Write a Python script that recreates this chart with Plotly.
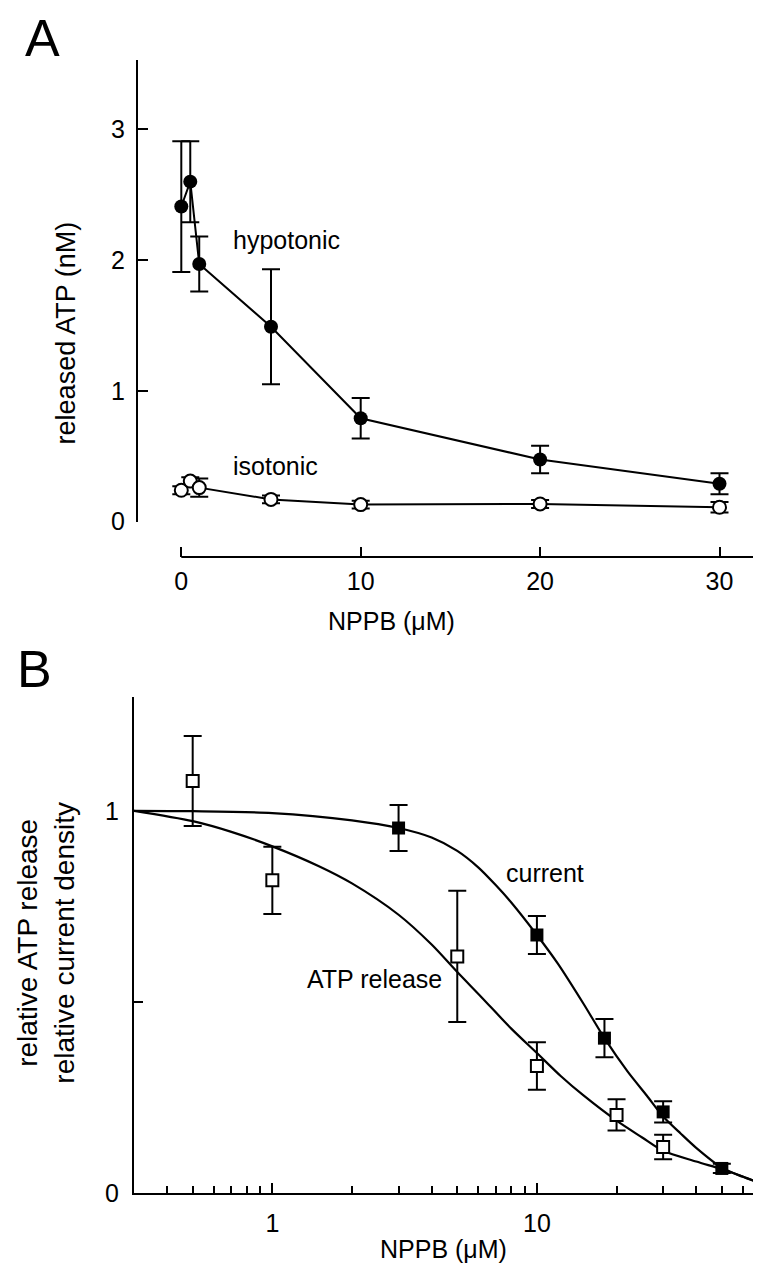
import numpy as np
import plotly.graph_objects as go

W, H = 761, 1280
FONT = "Liberation Sans, Arial, Helvetica, sans-serif"

# ---------------- Panel A data ----------------
conc_A = [0, 0.5, 1, 5, 10, 20, 30]
hypotonic = [2.41, 2.60, 1.97, 1.49, 0.79, 0.475, 0.29]
hypotonic_err = [0.50, 0.31, 0.21, 0.44, 0.155, 0.105, 0.08]
isotonic = [0.24, 0.31, 0.26, 0.17, 0.13, 0.135, 0.11]
isotonic_err = [0.03, 0.03, 0.07, 0.03, 0.03, 0.03, 0.04]
ticks_A_x = [0, 10, 20, 30]
ticks_A_y = [0, 1, 2, 3]

# ---------------- Panel B data ----------------
atp_x = [0.5, 1, 5, 10, 20, 30]
atp_y = [1.078, 0.818, 0.619, 0.332, 0.204, 0.12]
atp_err = [0.118, 0.088, 0.172, 0.062, 0.041, 0.032]
cur_x = [3, 10, 18, 30, 50]
cur_y = [0.955, 0.675, 0.405, 0.212, 0.064]
cur_err = [0.06, 0.05, 0.05, 0.028, 0.012]
# fitted curves
cur_fit_x = [0.3, 0.5, 1, 2, 3, 4, 5, 6, 7, 8, 10, 12, 15, 18, 22, 26, 30, 35, 40, 50, 60, 70]
cur_fit_y = [1.0, 0.999, 0.994, 0.975, 0.955, 0.93, 0.895, 0.852, 0.805, 0.76, 0.675, 0.60,
             0.495, 0.405, 0.318, 0.255, 0.20, 0.155, 0.118, 0.066, 0.042, 0.025]
atp_fit_x = [0.3, 0.5, 0.7, 1, 1.5, 2, 3, 4, 5, 6.16, 8, 10, 12.3, 15, 20, 25, 30, 40, 50, 60, 70]
atp_fit_y = [1.0, 0.973, 0.945, 0.907, 0.855, 0.81, 0.728, 0.65, 0.578, 0.513, 0.43, 0.366,
             0.306, 0.255, 0.189, 0.145, 0.11, 0.082, 0.062, 0.043, 0.025]
ticks_B_x = [1, 10]
minor_B_x = [0.4, 0.5, 0.6, 0.7, 0.8, 0.9, 2, 3, 4, 5, 6, 7, 8, 9, 20, 30, 40, 50, 60, 70]
ticks_B_y = [0, 0.5, 1]
ticklabels_B_y = ["0", "", "1"]


def px(x):
    return x / W


def py(y):
    return 1 - y / H


fig = go.Figure()

eb = dict(type="data", visible=True, color="black", thickness=2, width=9)

# Panel A
fig.add_trace(go.Scatter(
    x=conc_A, y=isotonic, mode="lines+markers",
    error_y=dict(array=isotonic_err, **eb),
    line=dict(color="black", width=2),
    marker=dict(symbol="circle", size=13, color="white", line=dict(color="black", width=2)),
    cliponaxis=False, xaxis="x", yaxis="y", showlegend=False))
fig.add_trace(go.Scatter(
    x=conc_A, y=hypotonic, mode="lines+markers",
    error_y=dict(array=hypotonic_err, **eb),
    line=dict(color="black", width=2),
    marker=dict(symbol="circle", size=14, color="black"),
    cliponaxis=False, xaxis="x", yaxis="y", showlegend=False))

# Panel B
fig.add_trace(go.Scatter(
    x=atp_fit_x, y=atp_fit_y, mode="lines",
    line=dict(color="black", width=2.2, shape="spline", smoothing=0.8),
    xaxis="x2", yaxis="y2", showlegend=False, cliponaxis=False))
fig.add_trace(go.Scatter(
    x=cur_fit_x, y=cur_fit_y, mode="lines",
    line=dict(color="black", width=2.2, shape="spline", smoothing=0.8),
    xaxis="x2", yaxis="y2", showlegend=False, cliponaxis=False))
fig.add_trace(go.Scatter(
    x=atp_x, y=atp_y, mode="markers",
    error_y=dict(array=atp_err, **eb),
    marker=dict(symbol="square", size=12, color="white", line=dict(color="black", width=2)),
    xaxis="x2", yaxis="y2", showlegend=False, cliponaxis=False))
fig.add_trace(go.Scatter(
    x=cur_x, y=cur_y, mode="markers",
    error_y=dict(array=cur_err, **eb),
    marker=dict(symbol="square", size=13, color="black"),
    xaxis="x2", yaxis="y2", showlegend=False, cliponaxis=False))

tickfont = dict(family=FONT, size=25, color="black")

# Panel A axes geometry (pixels)
A_x0_px, A_x10_px = 173.3, 352.7
A_left_px, A_right_px = 130, 755.7
A_scale = (A_x10_px - A_x0_px) / 10
A_xmin = (A_left_px - A_x0_px) / A_scale
A_xmax = (A_right_px - A_x0_px) / A_scale
A_y0_px, A_top_px = 519.3, 53
A_yscale = 132.2
A_ymax = (A_y0_px - A_top_px) / A_yscale

fig.update_layout(
    width=W, height=H, margin=dict(l=0, r=0, t=0, b=0),
    paper_bgcolor="white", plot_bgcolor="white",
    font=dict(family=FONT, color="black", size=25),
    xaxis=dict(domain=[px(A_left_px), px(A_right_px)], range=[A_xmin, A_xmax],
               anchor="free", position=py(555), showline=False, showgrid=False, zeroline=False,
               tickvals=ticks_A_x, ticks="inside", ticklen=10, tickwidth=2, tickcolor="black",
               tickfont=tickfont, ticklabelstandoff=7),
    yaxis=dict(domain=[py(A_y0_px), py(A_top_px)], range=[0, A_ymax], anchor="x",
               showline=True, linecolor="black", linewidth=2, showgrid=False, zeroline=False,
               tickvals=ticks_A_y, ticks="inside", ticklen=10, tickwidth=2, tickcolor="black",
               tickfont=tickfont, ticklabelstandoff=6),
    xaxis2=dict(type="log", domain=[px(126), px(752.5)], range=[np.log10(0.3), np.log10(70)],
                anchor="y2", showline=True, linecolor="black", linewidth=2, showgrid=False,
                zeroline=False, tickvals=ticks_B_x, ticktext=["1", "10"], ticks="inside",
                ticklen=10, tickwidth=2, tickcolor="black", tickfont=tickfont, ticklabelstandoff=7,
                minor=dict(tickvals=minor_B_x, ticks="inside", ticklen=7, tickwidth=2,
                           tickcolor="black", showgrid=False)),
    yaxis2=dict(domain=[py(1198), py(697)], range=[0, (1198 - 697) / 386.3], anchor="x2",
                showline=True, linecolor="black", linewidth=2, showgrid=False, zeroline=False,
                tickvals=ticks_B_y, ticktext=ticklabels_B_y, ticks="inside", ticklen=9,
                tickwidth=2, tickcolor="black", tickfont=tickfont, ticklabelstandoff=8),
)

# Panel A x-axis line (starts at 0, separate from y axis)
fig.add_shape(type="line", xref="x", yref="paper", x0=0, x1=A_xmax, y0=py(555), y1=py(555),
              line=dict(color="black", width=2))

# panel letters
fig.add_annotation(text="A", x=px(34), y=1.0, xref="paper", yref="paper", showarrow=False,
                   xanchor="center", yanchor="top", borderpad=0,
                   font=dict(family=FONT, size=52, color="black"))
fig.add_annotation(text="B", x=px(26), y=py(668), xref="paper", yref="paper", showarrow=False,
                   xanchor="center", yanchor="middle",
                   font=dict(family=FONT, size=52, color="black"))

annos = [
    dict(text="hypotonic", x=278, y=235, size=25),
    dict(text="isotonic", x=267, y=463, size=25),
    dict(text="current", x=537, y=875, size=25),
    dict(text="ATP release", x=366, y=982, size=25),
    dict(text="NPPB (\u03bcM)", x=383, y=620, size=25),
    dict(text="NPPB (\u03bcM)", x=435, y=1255, size=25),
]
for a in annos:
    fig.add_annotation(text=a["text"], x=px(a["x"]), y=py(a["y"]), xref="paper", yref="paper",
                       showarrow=False, xanchor="center", yanchor="middle",
                       font=dict(family=FONT, size=a["size"], color="black"))

fig.add_annotation(text="released ATP (nM)", x=px(58), y=py(329), xref="paper", yref="paper",
                   showarrow=False, textangle=-90, xanchor="center", yanchor="middle",
                   font=dict(family=FONT, size=27, color="black"))
fig.add_annotation(text="relative ATP release<br>relative current density", x=px(38), y=py(945),
                   xref="paper", yref="paper", showarrow=False, textangle=-90,
                   xanchor="center", yanchor="middle",
                   font=dict(family=FONT, size=28, color="black"))

fig.write_html("out.html")
